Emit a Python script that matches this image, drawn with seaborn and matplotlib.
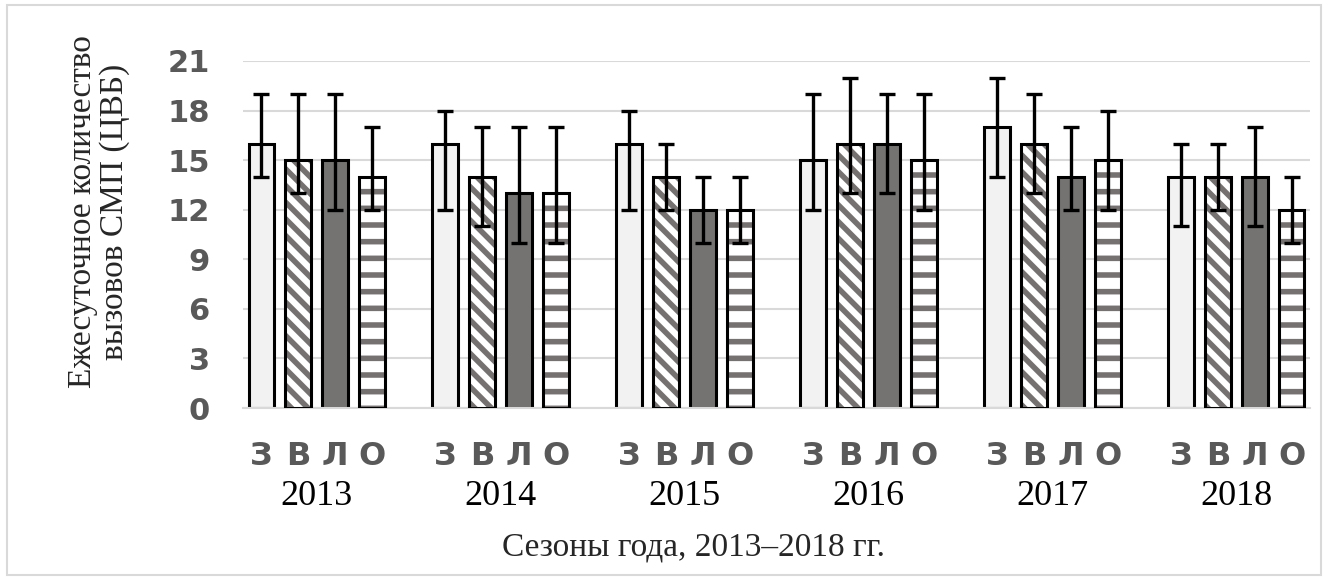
import numpy as np
import pandas as pd
import matplotlib
matplotlib.use("Agg")
import matplotlib.pyplot as plt
import matplotlib.transforms as mtransforms
from matplotlib.patches import Rectangle
import seaborn as sns

years = ["2013", "2014", "2015", "2016", "2017", "2018"]
seasons = ["З", "В", "Л", "О"]

# mean values per season (rows: years, cols: З В Л О)
means = [[16, 15, 15, 14],
         [16, 14, 13, 13],
         [16, 14, 12, 12],
         [15, 16, 16, 15],
         [17, 16, 14, 15],
         [14, 14, 14, 12]]
lows = [[14, 13, 12, 12],
        [12, 11, 10, 10],
        [12, 12, 10, 10],
        [12, 13, 13, 12],
        [14, 13, 12, 12],
        [11, 12, 11, 10]]
highs = [[19, 19, 19, 17],
         [18, 17, 17, 17],
         [18, 16, 14, 14],
         [19, 20, 19, 19],
         [20, 19, 17, 18],
         [16, 16, 17, 14]]

rows = []
for i, y in enumerate(years):
    for j, s in enumerate(seasons):
        rows.append({"year": y, "season": s, "value": means[i][j],
                     "low": lows[i][j], "high": highs[i][j]})
df = pd.DataFrame(rows)

sns.set_style("white")
plt.rcParams["hatch.linewidth"] = 4.0

fills = {"З": "#f2f2f2", "В": "white", "Л": "#767171", "О": "white"}
hatches = {"З": "", "В": "\\\\", "Л": "", "О": "-"}
stripe = "#767171"

fig = plt.figure(figsize=(13.28, 5.8), dpi=100)
ax = fig.add_axes([243 / 1328, 1 - 408 / 580, (1310 - 243) / 1328, (408 - 61) / 580])

sns.barplot(data=df, x="year", y="value", hue="season", hue_order=seasons,
            palette=fills, gap=0.3, width=0.8, errorbar=None, legend=False,
            edgecolor="black", linewidth=2.2, ax=ax, zorder=2)

# seaborn draws bars hue by hue
bars = ax.patches[:len(df)]
k = 0
for s in seasons:
    for y in years:
        p = bars[k]
        row = df[(df.year == y) & (df.season == s)].iloc[0]
        cx = p.get_x() + p.get_width() / 2
        if hatches[s]:
            p.set_edgecolor(stripe)
            p.set_linewidth(0)
            p.set_hatch(hatches[s])
            ax.add_patch(Rectangle((p.get_x(), p.get_y()), p.get_width(), p.get_height(),
                                   fill=False, edgecolor="black", linewidth=2.2, zorder=3))
        ax.errorbar(cx, row.value, yerr=[[row.value - row.low], [row.high - row.value]],
                    fmt="none", ecolor="black", elinewidth=2.4, capsize=6,
                    capthick=2.4, zorder=4)
        ax.text(cx, -0.14, s, transform=mtransforms.blended_transform_factory(ax.transData, ax.transAxes),
                ha="center", va="center", fontsize=23, fontweight="heavy",
                color="#595959", family="DejaVu Sans")
        k += 1

ax.set_xlim(-0.4, 5.4)
ax.set_ylim(0, 21)
ax.set_yticks(np.arange(0, 22, 3))
ax.yaxis.grid(True, color="#d9d9d9", linewidth=1.5, zorder=0)
ax.set_axisbelow(True)
for sp in ["top", "right", "left"]:
    ax.spines[sp].set_visible(False)
ax.spines["bottom"].set_color("#d9d9d9")
ax.spines["bottom"].set_linewidth(1.5)
ax.tick_params(axis="y", length=0, pad=24, labelsize=22, labelcolor="#595959")
for lab in ax.get_yticklabels():
    lab.set_fontweight("heavy")
    lab.set_family("DejaVu Sans")
ax.tick_params(axis="x", length=0, pad=64)
ax.set_xticks(range(len(years)))
ax.set_xticklabels(years, fontsize=26, family="Liberation Serif", color="black")
for lab in ax.get_xticklabels():
    lab.set_verticalalignment("center")
ax.set_xlabel("")
ax.set_ylabel("")

fig.text(693 / 1328, 1 - 547 / 580, "Сезоны года, 2013–2018 гг.", ha="center", va="center",
         fontsize=24, family="Liberation Serif")
fig.text(99 / 1328, 1 - 212 / 580, "Ежесуточное количество\nвызовов СМП (ЦВБ)",
         rotation=90, ha="center", va="center", multialignment="center",
         fontsize=24, family="Liberation Serif", linespacing=1.05)

fig.patches.append(Rectangle((7 / 1328, 5 / 580), (1321 - 7) / 1328, (575 - 5) / 580,
                             transform=fig.transFigure, fill=False,
                             edgecolor="#d9d9d9", linewidth=1.5))

fig.savefig("out.png", dpi=100)
